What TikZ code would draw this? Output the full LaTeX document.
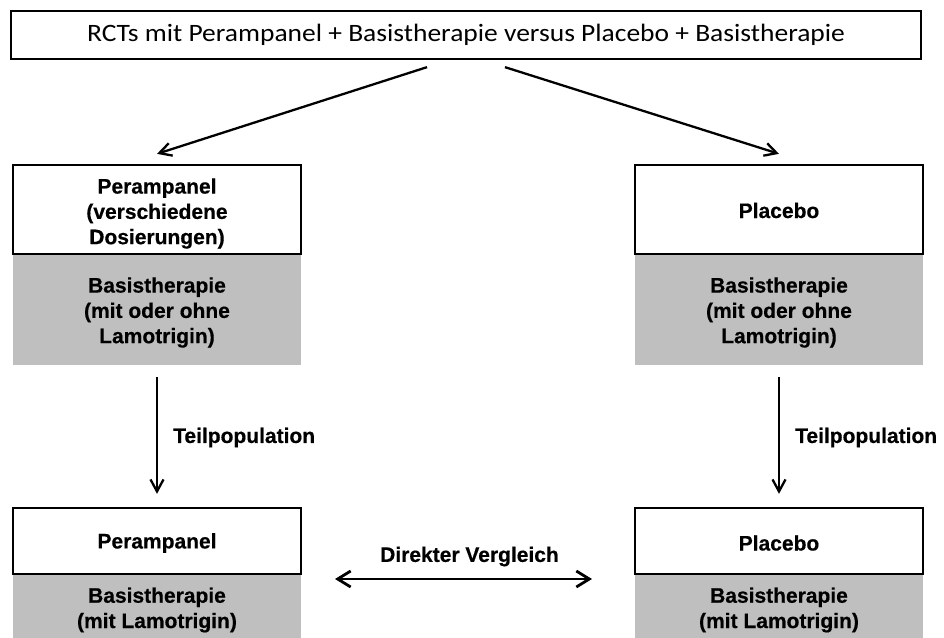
\documentclass[tikz,border=0pt]{standalone}
\usepackage{fontspec}
\setmainfont{Liberation Sans}
\newfontfamily\headfont{Carlito}[FakeStretch=1.1]
\newfontfamily\labelfont{Liberation Sans}[BoldFeatures={FakeBold=0.5}]
\usetikzlibrary{arrows.meta,shadows}
\definecolor{basisgray}{HTML}{BFBFBF}
\tikzset{
  boxtext/.style={font=\labelfont\bfseries\fontsize{21}{25.3}\selectfont, align=center, inner sep=0pt},
  boxshadow/.style={drop shadow={shadow xshift=1.2pt, shadow yshift=-1.2pt, fill=black, opacity=0.35}},
  whitebox/.style={draw=black, line width=2.3pt, fill=white, minimum width=288pt, inner sep=0pt, boxshadow},
  graybox/.style={fill=basisgray, minimum width=288pt, inner sep=0pt},
  arr/.style={line width=2.3pt, -{Straight Barb[length=12pt,width=13pt,line width=2.3pt]}},
  dblarr/.style={line width=2.8pt, {Straight Barb[length=13pt,width=16pt,line width=2.8pt]}-{Straight Barb[length=13pt,width=16pt,line width=2.8pt]}},
  lbl/.style={font=\labelfont\bfseries\fontsize{21}{25}\selectfont, inner sep=0pt}
}
\begin{document}
\begin{tikzpicture}[x=1pt, y=-1pt]
\useasboundingbox (0,0) rectangle (944,637);

% top box
\node[draw=black, line width=2.3pt, fill=white, boxshadow, minimum width=910pt, minimum height=48pt,
      font=\headfont\fontsize{25}{30}\selectfont, inner sep=0pt]
  (top) at (466,35) {RCTs mit Perampanel + Basistherapie versus Placebo + Basistherapie};

% upper boxes, left
\node[graybox, minimum height=111pt] (bl) at (157,309.5) {};
\node[whitebox, minimum height=89pt] (pl) at (157,209.5) {};
\node[boxtext, yshift=-3pt] (tbl) at (bl.center) {Basistherapie\\(mit oder ohne\\Lamotrigin)};
\node[boxtext, yshift=-4pt] (tpl) at (pl.center) {Perampanel\\(verschiedene\\Dosierungen)};
% upper boxes, right
\node[graybox, minimum height=111pt] (br) at (779,309.5) {};
\node[whitebox, minimum height=89pt] (pr) at (779,209.5) {};
\node[boxtext, yshift=-3pt] (tbr) at (br.center) {Basistherapie\\(mit oder ohne\\Lamotrigin)};
\node[boxtext, yshift=-1pt] (tpr) at (pr.center) {Placebo};

% lower boxes, left
\node[graybox, minimum height=66pt] (bbl) at (157,607) {};
\node[whitebox, minimum height=66pt] (ppl) at (157,541) {};
\node[boxtext, yshift=-3pt] (tbbl) at (bbl.center) {Basistherapie\\(mit Lamotrigin)};
\node[boxtext, yshift=-2pt] (tppl) at (ppl.center) {Perampanel};
% lower boxes, right
\node[graybox, minimum height=66pt] (bbr) at (779,607) {};
\node[whitebox, minimum height=66pt] (ppr) at (779,541) {};
\node[boxtext, yshift=-3pt] (tbbr) at (bbr.center) {Basistherapie\\(mit Lamotrigin)};
\node[boxtext, yshift=-2pt] (tppr) at (ppr.center) {Placebo};

% branches from the top box
\draw[arr] ([xshift=-39pt,yshift=-7pt]top.south) -- ([yshift=10pt]pl.north);
\draw[arr] ([xshift=39pt,yshift=-7pt]top.south) -- ([yshift=10pt]pr.north);

% subpopulation arrows
\draw[arr] ([yshift=-12pt]bl.south) -- node[lbl, anchor=west, xshift=15pt, yshift=-2pt] (tl) {Teilpopulation} ([yshift=13pt]ppl.north);
\draw[arr] ([yshift=-12pt]br.south) -- node[lbl, anchor=west, xshift=15pt, yshift=-2pt] (tr) {Teilpopulation} ([yshift=13pt]ppr.north);

% direct comparison
\coordinate (cl) at (335,579);
\coordinate (cr) at (592,579);
\draw[dblarr] (cl) -- (cr);
\node[lbl] (dv) at (469.5,556.5) {Direkter Vergleich};
\end{tikzpicture}
\end{document}
